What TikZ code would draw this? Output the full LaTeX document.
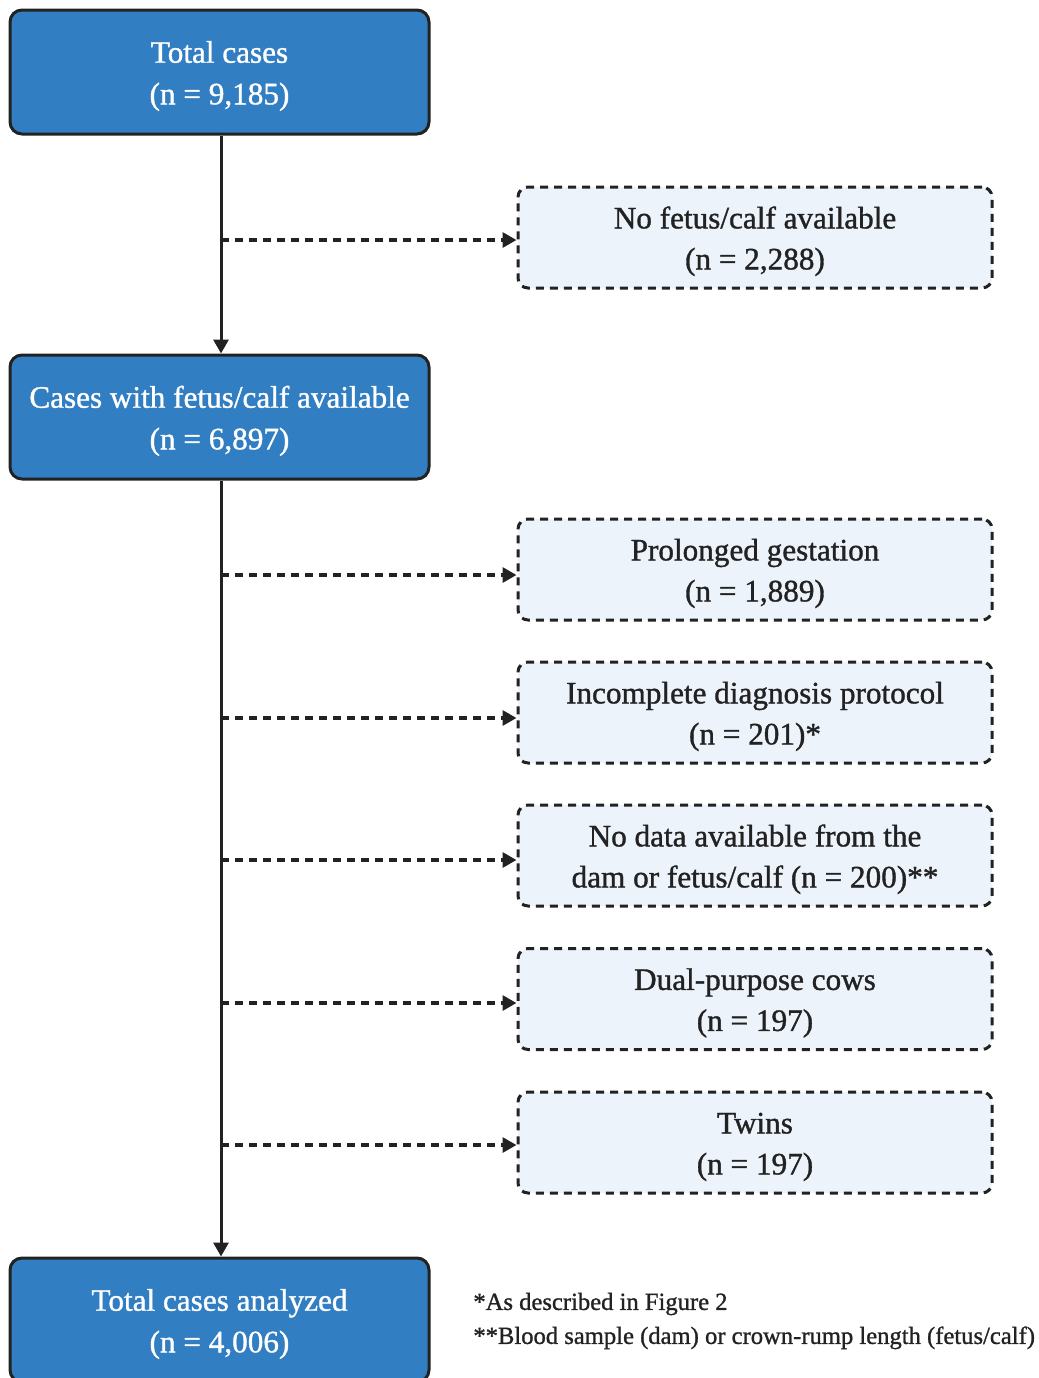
\documentclass[tikz,border=0pt]{standalone}
\usepackage{fontspec}
\setmainfont{Liberation Serif}[FakeBold=1.1]
\usetikzlibrary{arrows.meta}
\definecolor{boxblue}{RGB}{50,126,194}
\definecolor{lightfill}{RGB}{237,243,251}
\definecolor{inkdark}{RGB}{34,34,34}
\newcommand{\boxlines}[1]{\raisebox{-1.6pt}[\height][\depth]{\begin{tabular}{@{}c@{}}#1\end{tabular}}}
\tikzset{
  mainbox/.style={draw=inkdark, line width=1.5pt, fill=boxblue, rounded corners=6pt,
    minimum width=209.5pt, minimum height=62pt, inner sep=0pt, align=center,
    text=white, font=\fontsize{15.6pt}{20.8pt}\selectfont},
  exclbox/.style={draw=inkdark, line width=1.5pt, dash pattern=on 4pt off 3pt, fill=lightfill,
    rounded corners=5pt, minimum width=237pt, minimum height=50.5pt, inner sep=0pt,
    align=center, text=inkdark, font=\fontsize{15.6pt}{20.5pt}\selectfont},
  trunk/.style={draw=inkdark, line width=1.5pt, -{Triangle[length=7pt,width=7.5pt]}},
  exclarrow/.style={draw=inkdark, line width=1.6pt, dash pattern=on 4pt off 3pt,
    -{Triangle[length=7pt,width=7.5pt]}},
  notes/.style={align=left, anchor=west, inner sep=0pt, text=inkdark,
    font=\fontsize{12.3pt}{17pt}\selectfont}
}
\begin{document}
\begin{tikzpicture}[x=0.5pt,y=-0.5pt]
\useasboundingbox (0,0) rectangle (1039,1378);
% main boxes
\node[mainbox] (total) at (219.5,72) {\boxlines{Total cases\\(n = 9,185)}};
\node[mainbox] (fetus) at (219.5,417) {\boxlines{Cases with fetus/calf available\\(n = 6,897)}};
\node[mainbox] (analyzed) at (219.5,1320) {\boxlines{Total cases analyzed\\(n = 4,006)}};
% exclusion boxes
\node[exclbox] (nofetus) at (755,237.5) {\boxlines{No fetus/calf available\\(n = 2,288)}};
\node[exclbox] (prolonged) at (755,569.5) {\boxlines{Prolonged gestation\\(n = 1,889)}};
\node[exclbox] (incomplete) at (755,712.5) {\boxlines{Incomplete diagnosis protocol\\(n = 201)*}};
\node[exclbox] (nodata) at (755,855.5) {\boxlines{No data available from the\\dam or fetus/calf (n = 200)**}};
\node[exclbox] (dual) at (755,999) {\boxlines{Dual-purpose cows\\(n = 197)}};
\node[exclbox] (twins) at (755,1142.5) {\boxlines{Twins\\(n = 197)}};
% trunk
\draw[trunk] (total.south -| 221,0) -- (fetus.north -| 221,0);
\draw[trunk] (fetus.south -| 221,0) -- (analyzed.north -| 221,0);
% junctions
\coordinate (j1) at (221,240);
\coordinate (j2) at (221,575);
\coordinate (j3) at (221,718);
\coordinate (j4) at (221,860);
\coordinate (j5) at (221,1003);
\coordinate (j6) at (221,1145);
\draw[exclarrow] (j1) -- (j1 -| nofetus.west);
\draw[exclarrow] (j2) -- (j2 -| prolonged.west);
\draw[exclarrow] (j3) -- (j3 -| incomplete.west);
\draw[exclarrow] (j4) -- (j4 -| nodata.west);
\draw[exclarrow] (j5) -- (j5 -| dual.west);
\draw[exclarrow] (j6) -- (j6 -| twins.west);
% notes
\node[notes] (fn) at (473,1321) {*As described in Figure 2\\**Blood sample (dam) or crown-rump length (fetus/calf)};
\end{tikzpicture}
\end{document}
